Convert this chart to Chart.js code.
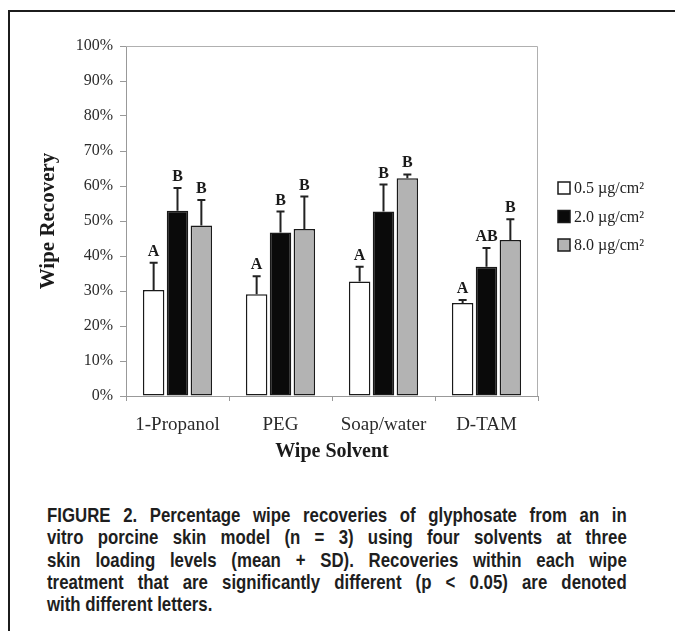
<!DOCTYPE html>
<html>
<head>
<meta charset="utf-8">
<script src="https://cdn.jsdelivr.net/npm/chart.js@4.4.1/dist/chart.umd.min.js"></script>
<style>
    html, body { margin: 0; padding: 0; background: #fff; }
    body { width: 675px; height: 631px; position: relative; overflow: hidden; }
    #frame {
        position: absolute; left: 8px; top: 10px; right: -4px; bottom: -4px;
        border-top: 2px solid #1c1c1c; border-left: 2px solid #1c1c1c;
    }
    #wrap { position: absolute; left: 0; top: 0; width: 675px; height: 480px; }
    /* condensed look: wider box squeezed horizontally */
    #caption {
        position: absolute; left: 47px; top: 504px; width: 707px;
        transform: scaleX(0.82); transform-origin: 0 0;
        font-family: "Liberation Sans", Arial, sans-serif;
        font-weight: bold; font-size: 20.5px; line-height: 22.3px; color: #1e1e1e;
    }
    #caption div { text-align: justify; text-align-last: justify; white-space: nowrap; }
    #caption div.last { text-align-last: left; }
</style>
</head>
<body>
<div id="frame"></div>
<div id="wrap"><canvas id="chart" width="675" height="480"></canvas></div>
<div id="caption">
    <div>FIGURE 2. Percentage wipe recoveries of glyphosate from an in</div>
    <div>vitro porcine skin model (n = 3) using four solvents at three</div>
    <div>skin loading levels (mean + SD). Recoveries within each wipe</div>
    <div>treatment that are significantly different (p &lt; 0.05) are denoted</div>
    <div class="last">with different letters.</div>
</div>
<script>
// Data
const solvents = ['1-Propanol', 'PEG', 'Soap/water', 'D-TAM'];
const loadLabels = ['0.5 µg/cm²', '2.0 µg/cm²', '8.0 µg/cm²'];

const mean05 = [30.3, 29.1, 32.7, 26.6];
const mean20 = [52.9, 46.7, 52.7, 36.9];
const mean80 = [48.7, 47.7, 62.2, 44.6];

const sd05 = [7.8, 5.1, 4.2, 0.8];
const sd20 = [6.5, 6.0, 7.7, 5.4];
const sd80 = [7.3, 9.3, 1.1, 5.9];

const letters05 = ['A', 'A', 'A', 'A'];
const letters20 = ['B', 'B', 'B', 'AB'];
const letters80 = ['B', 'B', 'B', 'B'];

const yTicks = [0, 10, 20, 30, 40, 50, 60, 70, 80, 90, 100];

const fills = ['#ffffff', '#0a0a0a', '#b3b3b3'];
const serif = '"Liberation Serif", "Times New Roman", serif';

function makeSet(i, data, sd, letters) {
    return {
        label: loadLabels[i],
        data: data,
        sd: sd,
        letters: letters,
        backgroundColor: fills[i],
        borderColor: '#1a1a1a',
        borderWidth: 1.5,
        borderSkipped: false,
        categoryPercentage: 0.695,
        barPercentage: 0.9
    };
}

// Error bars (upper only), significance letters, plot frame and legend
const extras = {
    id: 'extras',
    afterDatasetsDraw(chart) {
        const { ctx, chartArea: a, scales: { y } } = chart;
        ctx.save();

        // light frame on top and right of plot
        ctx.strokeStyle = '#b0b0b0';
        ctx.lineWidth = 1;
        ctx.beginPath();
        ctx.moveTo(a.left, a.top + 0.5);
        ctx.lineTo(a.right - 0.5, a.top + 0.5);
        ctx.lineTo(a.right - 0.5, a.bottom);
        ctx.stroke();

        chart.data.datasets.forEach((ds, i) => {
            const meta = chart.getDatasetMeta(i);
            meta.data.forEach((bar, j) => {
                const yTop = y.getPixelForValue(ds.data[j]);
                const yCap = y.getPixelForValue(ds.data[j] + ds.sd[j]);
                ctx.strokeStyle = '#222';
                ctx.lineWidth = 2;
                ctx.beginPath();
                ctx.moveTo(bar.x, yTop);
                ctx.lineTo(bar.x, yCap);
                ctx.moveTo(bar.x - 4, yCap);
                ctx.lineTo(bar.x + 4, yCap);
                ctx.stroke();

                ctx.fillStyle = '#1a1a1a';
                ctx.font = 'bold 16px ' + serif;
                ctx.textAlign = 'center';
                ctx.textBaseline = 'alphabetic';
                ctx.fillText(ds.letters[j], bar.x, yCap - 7);
            });
        });
        ctx.restore();
    },
    afterDraw(chart) {
        const { ctx, chartArea: a } = chart;
        ctx.save();
        ctx.font = '16px ' + serif;
        ctx.textBaseline = 'middle';
        ctx.textAlign = 'left';
        chart.data.datasets.forEach((ds, i) => {
            const x0 = a.right + 20;
            const yc = a.top + 142 + i * 28.5;
            ctx.fillStyle = ds.backgroundColor;
            ctx.fillRect(x0, yc - 6, 12, 12);
            ctx.strokeStyle = '#1a1a1a';
            ctx.lineWidth = 1.5;
            ctx.strokeRect(x0, yc - 6, 12, 12);
            ctx.fillStyle = '#222';
            ctx.fillText(ds.label, x0 + 16, yc + 1);
        });
        ctx.restore();
    }
};

new Chart(document.getElementById('chart'), {
    type: 'bar',
    data: {
        labels: solvents,
        datasets: [
            makeSet(0, mean05, sd05, letters05),
            makeSet(1, mean20, sd20, letters20),
            makeSet(2, mean80, sd80, letters80)
        ]
    },
    options: {
        responsive: false,
        animation: false,
        layout: { padding: { left: 36, top: 46, right: 137, bottom: 14 } },
        plugins: {
            legend: { display: false },
            tooltip: { enabled: false }
        },
        scales: {
            x: {
                grid: { drawOnChartArea: false, tickLength: 5, color: '#999', offset: true },
                border: { color: '#999', width: 1 },
                ticks: { color: '#2a2a2a', padding: 13, font: { family: serif, size: 19 } },
                title: {
                    display: true, text: 'Wipe Solvent', color: '#1a1a1a',
                    font: { family: serif, size: 20, weight: 'bold' }, padding: { top: 0, bottom: 2 }
                },
                afterFit: (s) => { s.height = 70; }
            },
            y: {
                min: 0, max: 100,
                afterBuildTicks: (s) => { s.ticks = yTicks.map(v => ({ value: v })); },
                grid: { drawOnChartArea: false, tickLength: 6, color: '#999' },
                border: { color: '#999', width: 1 },
                ticks: {
                    color: '#2a2a2a', padding: 7, font: { family: serif, size: 16 },
                    callback: (v) => v + '%'
                },
                title: {
                    display: true, text: 'Wipe Recovery', color: '#1a1a1a',
                    font: { family: serif, size: 21, weight: 'bold' }, padding: { top: 0, bottom: 0 }
                },
                afterFit: (s) => { s.width = 90; }
            }
        }
    },
    plugins: [extras]
});
</script>
</body>
</html>
